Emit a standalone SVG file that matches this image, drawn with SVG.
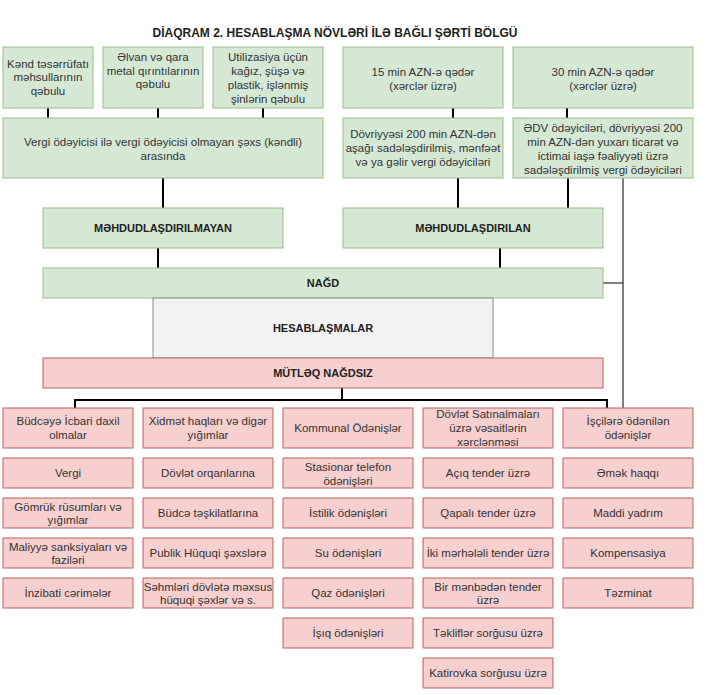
<svg xmlns="http://www.w3.org/2000/svg" width="708" height="695" viewBox="0 0 708 695">
<style>
.g{fill:#d5e8d4;stroke:#9bbb89;stroke-width:1}
.p{fill:#f6cfce;stroke:#b9625f;stroke-width:1}
.h{fill:#f2f2f2;stroke:#8c8c8c;stroke-width:1}
text{font-family:"Liberation Sans",Arial,sans-serif;font-size:11.5px;fill:#333;text-anchor:middle}
.b{font-weight:bold;font-size:11px;fill:#222}
.t{font-weight:bold;font-size:12px;fill:#222}
.k{stroke:#000;stroke-width:2;fill:none}
.n{stroke:#000;stroke-width:1;fill:none}
</style>
<rect width="708" height="695" fill="#fff"/>
<text class="t" x="335" y="37">DİAQRAM 2. HESABLAŞMA NÖVLƏRİ İLƏ BAĞLI ŞƏRTİ BÖLGÜ</text>
<g id="connectors">
<path class="k" d="M48 108V118M158 108V118M263 108V118M453 108V118M567 108V118"/>
<path class="k" d="M163 178V208M458 178V208M568 178V208"/>
<path class="k" d="M158 248V268M500 248V268"/>
<path class="n" d="M623 178V408M603 283H623"/>
<path class="k" d="M342 388V400M75 408V400H607V408"/>
</g>
<g id="n1"><rect class="g" x="3" y="47" width="90" height="61"/><text x="48" y="68">Kənd təsərrüfatı</text><text x="48" y="81">məhsullarının</text><text x="48" y="95">qəbulu</text></g>
<g id="n2"><rect class="g" x="103" y="47" width="100" height="61"/><text x="153" y="61">Əlvan və qara</text><text x="153" y="75">metal qırıntılarının</text><text x="153" y="88">qəbulu</text></g>
<g id="n3"><rect class="g" x="213" y="47" width="110" height="61"/><text x="268" y="61">Utilizasiya üçün</text><text x="268" y="75">kağız, şüşə və</text><text x="268" y="89">plastik, işlənmiş</text><text x="268" y="103">şinlərin qəbulu</text></g>
<g id="n4"><rect class="g" x="343" y="47" width="160" height="61"/><text x="423" y="76">15 min AZN-ə qədər</text><text x="423" y="90">(xərclər üzrə)</text></g>
<g id="n5"><rect class="g" x="513" y="47" width="180" height="61"/><text x="603" y="76">30 min AZN-ə qədər</text><text x="603" y="90">(xərclər üzrə)</text></g>
<g id="n6"><rect class="g" x="3" y="118" width="320" height="60"/><text x="163" y="146">Vergi ödəyicisi ilə vergi ödəyicisi olmayan şəxs (kəndli)</text><text x="163" y="160">arasında</text></g>
<g id="n7"><rect class="g" x="343" y="118" width="160" height="60"/><text x="423" y="138">Dövriyyəsi 200 min AZN-dən</text><text x="423" y="152">aşağı sadələşdirilmiş, mənfəət</text><text x="423" y="166">və ya gəlir vergi ödəyiciləri</text></g>
<g id="n8"><rect class="g" x="513" y="118" width="180" height="60"/><text x="603" y="132">ƏDV ödəyiciləri, dövriyyəsi 200</text><text x="603" y="146">min AZN-dən yuxarı ticarət və</text><text x="603" y="160">ictimai iaşə fəaliyyəti üzrə</text><text x="603" y="174">sadələşdirilmiş vergi ödəyiciləri</text></g>
<g id="n9"><rect class="g" x="43" y="208" width="240" height="40"/><text class="b" x="163" y="232">MƏHDUDLAŞDIRILMAYAN</text></g>
<g id="n10"><rect class="g" x="343" y="208" width="260" height="40"/><text class="b" x="473" y="232">MƏHDUDLAŞDIRILAN</text></g>
<g id="n11"><rect class="g" x="43" y="268" width="560" height="30"/><text class="b" x="323" y="287">NAĞD</text></g>
<g id="n12"><rect class="h" x="153" y="298" width="340" height="60"/><text class="b" x="323" y="332">HESABLAŞMALAR</text></g>
<g id="n13"><rect class="p" x="43" y="358" width="560" height="30"/><text class="b" x="323" y="377">MÜTLƏQ NAĞDSIZ</text></g>
<g id="c1">
<rect class="p" x="3" y="408" width="130" height="40"/><text x="68" y="425">Büdcəyə İcbari daxil</text><text x="68" y="439">olmalar</text>
<rect class="p" x="3" y="458" width="130" height="30"/><text x="68" y="477">Vergi</text>
<rect class="p" x="3" y="498" width="130" height="30"/><text x="68" y="511">Gömrük rüsumları və</text><text x="68" y="524">yığımlar</text>
<rect class="p" x="3" y="538" width="130" height="30"/><text x="68" y="551">Maliyyə sanksiyaları və</text><text x="68" y="564">faziləri</text>
<rect class="p" x="3" y="578" width="130" height="30"/><text x="68" y="597">İnzibati cərimələr</text>
</g>
<g id="c2">
<rect class="p" x="143" y="408" width="130" height="40"/><text x="208" y="425">Xidmət haqları və digər</text><text x="208" y="439">yığımlar</text>
<rect class="p" x="143" y="458" width="130" height="30"/><text x="208" y="477">Dövlət orqanlarına</text>
<rect class="p" x="143" y="498" width="130" height="30"/><text x="208" y="517">Büdcə təşkilatlarına</text>
<rect class="p" x="143" y="538" width="130" height="30"/><text x="208" y="557">Publik Hüquqi şəxslərə</text>
<rect class="p" x="143" y="578" width="130" height="30"/><text x="208" y="591">Səhmləri dövlətə məxsus</text><text x="208" y="604">hüquqi şəxlər və s.</text>
</g>
<g id="c3">
<rect class="p" x="283" y="408" width="130" height="40"/><text x="348" y="432">Kommunal Ödənişlər</text>
<rect class="p" x="283" y="458" width="130" height="30"/><text x="348" y="471">Stasionar telefon</text><text x="348" y="485">ödənişləri</text>
<rect class="p" x="283" y="498" width="130" height="30"/><text x="348" y="517">İstilik ödənişləri</text>
<rect class="p" x="283" y="538" width="130" height="30"/><text x="348" y="557">Su ödənişləri</text>
<rect class="p" x="283" y="578" width="130" height="30"/><text x="348" y="597">Qaz ödənişləri</text>
<rect class="p" x="283" y="618" width="130" height="30"/><text x="348" y="637">İşıq ödənişləri</text>
</g>
<g id="c4">
<rect class="p" x="423" y="408" width="130" height="40"/><text x="488" y="418">Dövlət Satınalmaları</text><text x="488" y="432">üzrə vəsaitlərin</text><text x="488" y="446">xərclənməsi</text>
<rect class="p" x="423" y="458" width="130" height="30"/><text x="488" y="477">Açıq tender üzrə</text>
<rect class="p" x="423" y="498" width="130" height="30"/><text x="488" y="517">Qapalı tender üzrə</text>
<rect class="p" x="423" y="538" width="130" height="30"/><text x="488" y="557">İki mərhələli tender üzrə</text>
<rect class="p" x="423" y="578" width="130" height="30"/><text x="488" y="591">Bir mənbədən tender</text><text x="488" y="604">üzrə</text>
<rect class="p" x="423" y="618" width="130" height="30"/><text x="488" y="637">Təkliflər sorğusu üzrə</text>
<rect class="p" x="423" y="658" width="130" height="30"/><text x="488" y="677">Katirovka sorğusu üzrə</text>
</g>
<g id="c5">
<rect class="p" x="563" y="408" width="130" height="40"/><text x="628" y="425">İşçilərə ödənilən</text><text x="628" y="439">ödənişlər</text>
<rect class="p" x="563" y="458" width="130" height="30"/><text x="628" y="477">Əmək haqqı</text>
<rect class="p" x="563" y="498" width="130" height="30"/><text x="628" y="517">Maddi yadrım</text>
<rect class="p" x="563" y="538" width="130" height="30"/><text x="628" y="557">Kompensasiya</text>
<rect class="p" x="563" y="578" width="130" height="30"/><text x="628" y="597">Təzminat</text>
</g>
</svg>
